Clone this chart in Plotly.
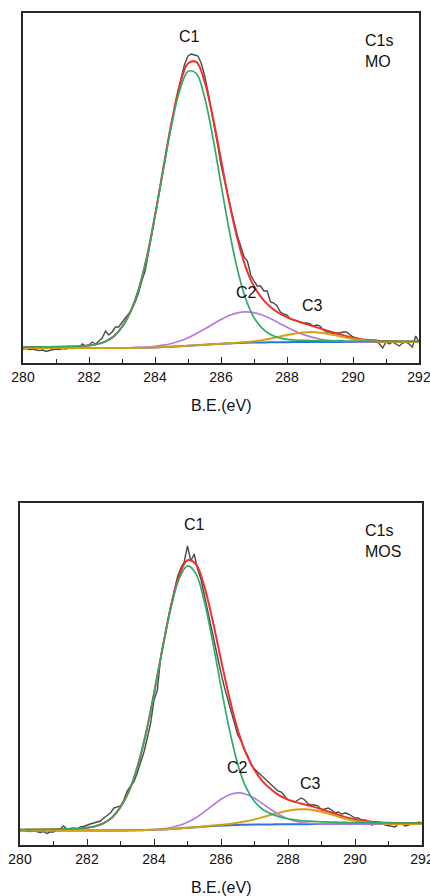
import numpy as np
import plotly.graph_objects as go

# ---------------- data ----------------
# binding-energy grid of the fitted curves (eV)
BE_FIT = [280.0, 280.25, 280.5, 280.75, 281.0, 281.25, 281.5, 281.75, 282.0, 282.25,
          282.5, 282.75, 283.0, 283.25, 283.5, 283.75, 284.0, 284.25, 284.5, 284.75,
          285.0, 285.25, 285.5, 285.75, 286.0, 286.25, 286.5, 286.75, 287.0, 287.25,
          287.5, 287.75, 288.0, 288.25, 288.5, 288.75, 289.0, 289.25, 289.5, 289.75,
          290.0, 290.25, 290.5, 290.75, 291.0, 291.25, 291.5, 291.75, 292.0]
# binding-energy grid of the measured spectra (eV, 0.1 eV step)
BE_RAW = [round(280.0 + 0.1 * i, 1) for i in range(121)]
TICKS = [280, 282, 284, 286, 288, 290, 292]

# ---- MO sample ----
MO_RAW = [14, 14.5, 13.5, 14, 13, 12.5, 13, 11.5, 12.5, 13.5,
          14, 13.5, 14.5, 14, 15, 14.5, 16, 15.5, 19, 17,
          18, 21, 19, 22, 25, 32, 28, 31, 36, 36,
          41, 45, 49, 54, 61, 70, 82, 92, 110, 128,
          146, 163, 182, 203, 222, 240, 257, 272, 286, 299,
          307, 309, 308, 307, 300, 288, 272, 255, 237, 218,
          198, 183, 168, 153, 140, 127, 116, 106, 102, 88,
          82, 77, 77, 72, 72, 61, 60, 57, 51, 49,
          48, 44, 43, 42, 41, 40, 40, 39, 37, 38,
          37, 33, 31, 31, 29, 30, 30, 31, 31, 28,
          26, 25, 24, 22, 23, 22, 22, 23, 19, 15,
          21, 19, 21, 19, 17, 20, 21, 19, 16, 27,
          21]
MO_BG = [15.0, 15.0, 15.0, 15.0, 15.0, 15.0, 15.0, 15.0, 15.0, 15.0,
         15.0, 15.0, 15.05, 15.1, 15.2, 15.35, 15.6, 15.9, 16.3, 16.75,
         17.3, 17.8, 18.3, 18.8, 19.3, 19.6, 19.9, 20.2, 20.4, 20.55,
         20.7, 20.8, 20.85, 20.9, 20.9, 20.95, 20.95, 21.0, 21.0, 21.0,
         21.0, 21.0, 21.0, 21.0, 21.0, 21.0, 21.0, 21.0, 21.0]
MO_C1 = [0.8, 0.9, 1.0, 1.1, 1.2, 1.35, 1.6, 2.0, 2.6, 3.9,
         6.6, 11.6, 20.9, 35.4, 57.8, 89.6, 130.8, 176.7, 221.0, 255.9,
         274.3, 271.8, 247.7, 207.4, 159.6, 112.9, 73.4, 43.8, 25.0, 14.1,
         7.9, 4.5, 2.8, 2.1, 1.7, 1.45, 1.3, 1.2, 1.1, 1.0,
         0.9, 0.85, 0.8, 0.75, 0.7, 0.65, 0.6, 0.55, 0.5]
MO_C2 = [0, 0, 0, 0, 0, 0, 0, 0, 0, 0,
         0, 0.03, 0.06, 0.15, 0.27, 0.55, 1.06, 1.9, 3.2, 5.2,
         8.0, 11.5, 15.6, 20.0, 24.3, 27.9, 30.3, 31.0, 30.0, 27.4,
         23.7, 19.3, 14.9, 10.9, 7.5, 4.9, 3.0, 1.7, 1.0, 0.5,
         0.24, 0.1, 0, 0, 0, 0, 0, 0, 0]
MO_C3 = [0, 0, 0, 0, 0, 0, 0, 0, 0, 0,
         0, 0, 0, 0, 0, 0, 0, 0, 0, 0,
         0, 0, 0, 0, 0.06, 0.15, 0.35, 0.7, 1.35, 2.3,
         3.7, 5.4, 7.1, 8.7, 9.7, 10.0, 9.4, 8.1, 6.4, 4.7,
         3.1, 1.9, 1.1, 0.55, 0.26, 0.1, 0, 0, 0]

# ---- MOS sample ----
MOS_RAW = [14, 15, 14, 13.5, 14.5, 13.5, 12.5, 13.5, 11.5, 13,
           13, 15, 16, 19, 16, 16.5, 17, 16, 18, 18.5,
           20, 21, 22, 23, 24, 27, 30, 32, 37, 38,
           39, 45, 54, 59, 63, 72, 82, 93, 107, 122,
           145, 155, 188, 207, 222, 239, 255, 268, 277, 283,
           299, 284, 291, 276, 266, 250, 236, 218, 202, 186,
           172, 158, 146, 135, 124, 110, 104, 95, 89, 80,
           76, 73, 69, 66, 63, 61, 58, 54, 53, 49,
           45, 44, 43, 45, 47, 45, 41, 40, 40, 39,
           35, 36, 37, 35, 32, 33, 31, 32, 31, 29,
           27, 27, 25, 25, 24, 20, 21, 23, 22, 20,
           19.5, 19, 18, 22, 21, 19, 20, 22, 21, 23,
           22]
MOS_BG = [14.5, 14.5, 14.5, 14.5, 14.5, 14.5, 14.5, 14.5, 14.5, 14.5,
          14.5, 14.5, 14.56, 14.63, 14.75, 14.93, 15.2, 15.55, 16.0, 16.6,
          17.2, 17.8, 18.4, 19.0, 19.4, 19.8, 20.06, 20.27, 20.43, 20.54,
          20.62, 20.69, 20.75, 20.79, 20.84, 20.88, 20.92, 20.94, 20.96, 20.98,
          20.99, 21.0, 21.0, 21.0, 21.0, 21.0, 21.0, 21.0, 21.0]
MOS_C1 = [0.8, 0.9, 1.0, 1.1, 1.2, 1.35, 1.6, 2.0, 2.8, 4.3,
          7.4, 13.1, 23.3, 39.0, 62.8, 95.3, 136.0, 180.0, 220.3, 249.6,
          262.0, 253.6, 225.6, 184.6, 138.7, 95.8, 60.8, 37.0, 23.0, 15.0,
          10.5, 7.5, 5.5, 4.2, 3.3, 2.7, 2.3, 2.0, 1.8, 1.6,
          1.4, 1.3, 1.2, 1.1, 1.0, 0.95, 0.9, 0.85, 0.8]
MOS_C2 = [0, 0, 0, 0, 0, 0, 0, 0, 0, 0,
          0, 0, 0, 0, 0.03, 0.09, 0.24, 0.61, 1.41, 2.9,
          5.5, 9.4, 14.7, 20.6, 26.3, 30.5, 32.0, 30.5, 26.3, 20.6,
          14.7, 9.4, 5.5, 2.9, 1.41, 0.61, 0.24, 0.09, 0.03, 0,
          0, 0, 0, 0, 0, 0, 0, 0, 0]
MOS_C3 = [0, 0, 0, 0, 0, 0, 0, 0, 0, 0,
          0, 0, 0, 0, 0, 0, 0, 0, 0, 0,
          0, 0, 0.19, 0.39, 0.75, 1.33, 2.24, 3.5, 5.2, 7.3,
          9.6, 11.7, 13.6, 14.7, 15.0, 14.2, 12.3, 9.9, 7.4, 5.0,
          3.2, 1.9, 1.0, 0.5, 0.2, 0.1, 0, 0, 0]

# peak labels: (text, BE, intensity)
MO_LABELS = [("C1", 285.06, 327), ("C2", 286.76, 71), ("C3", 288.76, 58)]
MOS_LABELS = [("C1", 285.2, 321), ("C2", 286.5, 78), ("C3", 288.66, 62)]
SAMPLE_NAMES = ["MO", "MOS"]

# ---------------- styling ----------------
FONT = "Liberation Sans, Arial, Helvetica, sans-serif"
COL_RAW = "#4a4a4a"
COL_ENV = "#f2302b"
COL_BG = "#2f73e0"
COL_C1 = "#2eab68"
COL_C2 = "#b57ae2"
COL_C3 = "#d3a012"
AX_COL = "#262626"

W, H = 430, 896
# panel boxes in pixels: (x0, x1, y_top, y_bottom)
PANELS = [(23, 419, 13, 363), (20, 422, 503, 845)]
YMAX = [350, 342]

fig = go.Figure()

datasets = [
    (MO_RAW, MO_BG, MO_C1, MO_C2, MO_C3, MO_LABELS),
    (MOS_RAW, MOS_BG, MOS_C1, MOS_C2, MOS_C3, MOS_LABELS),
]

annotations = []
for i, (raw, bg, c1, c2, c3, labels) in enumerate(datasets):
    xa = "x" if i == 0 else "x2"
    ya = "y" if i == 0 else "y2"
    bg = np.array(bg, float)
    c1 = np.array(c1, float)
    c2 = np.array(c2, float)
    c3 = np.array(c3, float)
    env = bg + c1 + c2 + c3

    fig.add_trace(go.Scatter(x=BE_RAW, y=raw, mode="lines", xaxis=xa, yaxis=ya,
                             line=dict(color=COL_RAW, width=1.4), showlegend=False))
    fig.add_trace(go.Scatter(x=BE_FIT, y=env, mode="lines", xaxis=xa, yaxis=ya,
                             line=dict(color=COL_ENV, width=2.0, shape="spline"), showlegend=False))
    fig.add_trace(go.Scatter(x=BE_FIT, y=bg, mode="lines", xaxis=xa, yaxis=ya,
                             line=dict(color=COL_BG, width=2.0, shape="spline"), showlegend=False))
    fig.add_trace(go.Scatter(x=BE_FIT, y=bg + c2, mode="lines", xaxis=xa, yaxis=ya,
                             line=dict(color=COL_C2, width=1.7, shape="spline"), showlegend=False))
    fig.add_trace(go.Scatter(x=BE_FIT, y=bg + c3, mode="lines", xaxis=xa, yaxis=ya,
                             line=dict(color=COL_C3, width=2.0, shape="spline"), showlegend=False))
    fig.add_trace(go.Scatter(x=BE_FIT, y=bg + c1, mode="lines", xaxis=xa, yaxis=ya,
                             line=dict(color=COL_C1, width=1.7, shape="spline"), showlegend=False))

    for txt, bx, by in labels:
        annotations.append(dict(x=bx, y=by, xref=xa, yref=ya, text=txt, showarrow=False,
                                font=dict(family=FONT, size=16, color="#111")))

    x0, x1, yt, yb = PANELS[i]
    # sample tag
    annotations.append(dict(x=363 / W, y=1 - (yt + 38) / H, xref="paper", yref="paper",
                            text="C1s<br>" + SAMPLE_NAMES[i], showarrow=False, align="left",
                            xanchor="left", yanchor="middle",
                            font=dict(family=FONT, size=16, color="#111")))
    # axis title
    annotations.append(dict(x=((x0 + x1) / 2) / W, y=1 - (yb + 42) / H, xref="paper", yref="paper",
                            text="B.E.(eV)", showarrow=False, xanchor="center", yanchor="middle",
                            font=dict(family=FONT, size=16, color="#111")))

def xaxis_cfg(i):
    x0, x1, yt, yb = PANELS[i]
    return dict(domain=[x0 / W, x1 / W], range=[280, 292], anchor="y" if i == 0 else "y2",
                automargin=False, ticklabeloverflow="allow",
                tickmode="array", tickvals=TICKS, ticktext=[str(t) for t in TICKS],
                ticks="inside", ticklen=6, tickwidth=1.2, tickcolor=AX_COL,
                minor=dict(ticks="inside", ticklen=4, tickwidth=1.2, dtick=1, tick0=280,
                           tickcolor=AX_COL, showgrid=False),
                showline=True, linecolor=AX_COL, linewidth=1.5, mirror=True,
                showgrid=False, zeroline=False,
                tickfont=dict(family=FONT, size=14, color="#111"))

def yaxis_cfg(i):
    x0, x1, yt, yb = PANELS[i]
    return dict(domain=[1 - yb / H, 1 - yt / H], range=[0, YMAX[i]],
                anchor="x" if i == 0 else "x2", automargin=False,
                showticklabels=False, ticks="", showline=True, linecolor=AX_COL,
                linewidth=1.5, mirror=True, showgrid=False, zeroline=False)

fig.update_layout(
    template="none",
    width=W, height=H,
    margin=dict(l=0, r=0, t=0, b=0, pad=0),
    paper_bgcolor="white", plot_bgcolor="white",
    xaxis=xaxis_cfg(0), yaxis=yaxis_cfg(0),
    xaxis2=xaxis_cfg(1), yaxis2=yaxis_cfg(1),
    annotations=annotations,
    showlegend=False,
)

fig.write_html("out.html", config={"displayModeBar": False},
               post_script="document.body.style.margin='0';document.body.style.overflow='hidden';")
